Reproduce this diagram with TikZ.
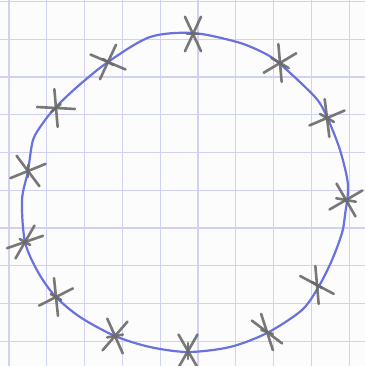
\documentclass[tikz,border=0pt]{standalone}
\usetikzlibrary{calc}
\definecolor{gridc}{HTML}{D0D2F3}
\definecolor{penblue}{HTML}{6A72DE}
\definecolor{pencilc}{HTML}{6A6A6A}
\begin{document}
\begin{tikzpicture}[x=1pt,y=-1pt,
  gridline/.style={draw=gridc,line width=1.3pt},
  circleline/.style={draw=penblue,line width=2.2pt,line cap=round,line join=round},
  pencil/.style={draw=pencilc,line width=2.6pt,line cap=round,opacity=0.9}]
\fill[white!98!gray] (0,0) rectangle (365,366);
\useasboundingbox (0,0) rectangle (365,366);
% grid
\foreach \k in {0,...,9}{
  \draw[gridline] ({9+37.8*\k},0) -- ({9+37.8*\k},366);
  \draw[gridline] (0,{1.5+37.75*\k}) -- (365,{1.5+37.75*\k});
}
% hand-drawn circle
\draw[circleline] plot[smooth cycle,tension=0.5] coordinates {
 (193,33) (237,42) (262,52) (279,63) (315,97) (327,117) (340,150) (348,185)
 (345,215) (342,233) (332,260) (319,286) (302,310) (267,333) (230,347)
 (188,352) (150,347) (115,336) (80,317) (55,296) (38,272) (25,242) (22,200)
 (28,171) (33,140) (43,123) (55,108) (77,87) (108,62) (150,37)};
% crosses: x/y/angle1/angle2/angle3/len3 (image angles, y down)
\foreach \px/\py/\a/\b/\c/\l in {
  193/34/65/115/0/6,
  280/63/-31/-95/-150/10,
  327/118/-23/-97/-150/8,
  346/200/-30/-120/-170/10,
  317/285/28/-95/-150/6,
  267/332/37/-108/-160/6,
  188/351/60/120/90/8,
  115/336/-49/-114/-10/8,
  56/297/-27/-96/-150/6,
  25/242/-19/-60/-150/6,
  28/171/-22/53/90/6,
  56/108/3/-95/-40/6,
  108/62/23/-65/-150/6}
{
  \draw[pencil] ($(\px,\py)+(\a:19)$) -- ($(\px,\py)+(\a+180:19)$);
  \draw[pencil] ($(\px,\py)+(\b:19)$) -- ($(\px,\py)+(\b+180:19)$);
  \draw[pencil] ($(\px,\py)+(\c:\l)$) -- ($(\px,\py)+(\c+180:\l)$);
}
\end{tikzpicture}
\end{document}
